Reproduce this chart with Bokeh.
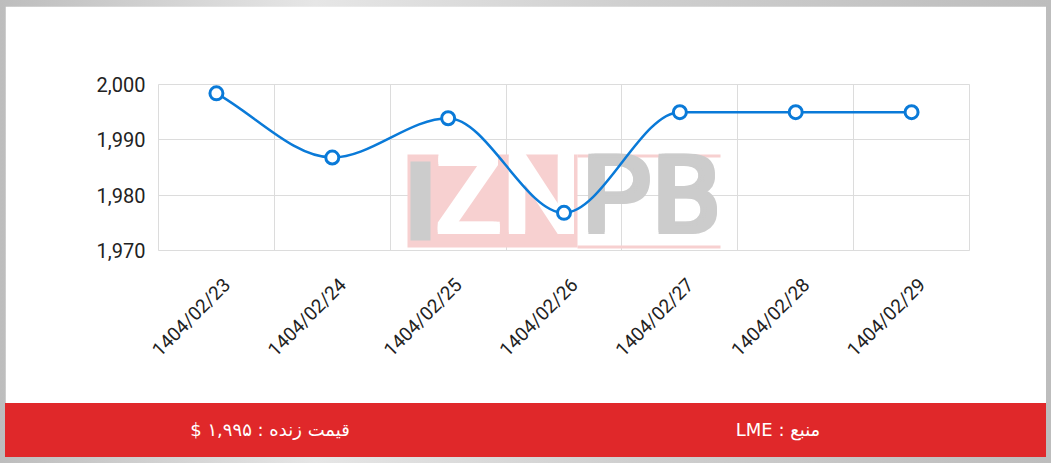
import math
from bokeh.plotting import figure
from bokeh.layouts import column
from bokeh.models import (Range1d, FixedTicker, NumeralTickFormatter, Div,
                          CustomJSTickFormatter)
from bokeh.core.properties import value
from bokeh.embed import file_html
from bokeh.resources import INLINE

# ---- data ----
dates = ["1404/02/23", "1404/02/24", "1404/02/25", "1404/02/26",
         "1404/02/27", "1404/02/28", "1404/02/29"]
prices = [1998.4, 1986.8, 1993.9, 1976.8, 1995.0, 1995.0, 1995.0]
y_ticks = [1970, 1980, 1990, 2000]
live_price_text = "قیمت زنده : ۱,۹۹۵ $"
source_text = "منبع : LME"

xs = list(range(len(dates)))

LINE_BLUE = "#0a7ad8"
RED = "#e0282a"
LABEL_SHIFT = 0.09  # axis labels sit slightly right of the points

p = figure(width=1041, height=397, output_backend="svg", toolbar_location=None,
           x_range=Range1d(-0.5, len(dates) - 0.5), y_range=Range1d(1970, 2000),
           min_border_left=153, min_border_right=77, min_border_top=78,
           min_border_bottom=153, background_fill_color="white",
           border_fill_color="white", outline_line_color="#dcdcdc")

# grid
p.xgrid.ticker = FixedTicker(ticks=[i + 0.5 for i in xs[:-1]])
p.xgrid.grid_line_color = "#dcdcdc"
p.ygrid.grid_line_color = "#dcdcdc"

# axes
p.yaxis.ticker = FixedTicker(ticks=y_ticks)
p.yaxis.formatter = NumeralTickFormatter(format="0,0")
p.xaxis.ticker = FixedTicker(ticks=[x + LABEL_SHIFT for x in xs])
p.xaxis.formatter = CustomJSTickFormatter(
    args=dict(labels=dates, shift=LABEL_SHIFT),
    code="return labels[Math.round(tick - shift)];")
p.xaxis.major_label_orientation = math.pi / 4
for ax in (p.xaxis, p.yaxis):
    ax.axis_line_color = None
    ax.major_tick_line_color = None
    ax.minor_tick_line_color = None
    ax.major_tick_out = 0
    ax.major_label_text_font = "Roboto"
    ax.major_label_text_color = "#222222"
p.xaxis.major_label_text_font_size = "19px"
p.yaxis.major_label_text_font_size = "20px"
p.yaxis.major_label_standoff = 13
p.xaxis.major_label_standoff = 31

# ---- watermark "IZNPB" (page pixel -> data mapping helpers) ----
def wx(px):
    return -0.5 + (px - 158) * 7.0 / 811.0

def wy(py):
    return 2000 - (py - 84) * 30.0 / 166.0

p.quad(left=[wx(407)], right=[wx(577)], top=[wy(154)], bottom=[wy(247)],
       fill_color="#f7d0d0", line_color=None)
p.quad(left=[wx(577), wx(577)], right=[wx(720), wx(720)],
       top=[wy(154), wy(245)], bottom=[wy(157), wy(248)],
       fill_color="#f7d0d0", line_color=None)
p.quad(left=[wx(410)], right=[wx(430)], top=[wy(161)], bottom=[wy(240)],
       fill_color="#cccccc", line_color=None)
# faux-bold letters: a few slightly offset copies
for dx in (-3, 0, 3):
    for dy in (-2, 0, 2):
        p.text(x=[wx(468 + dx), wx(541 + dx)], y=[wy(194 + dy)] * 2,
               text=["Z", "N"], text_font=value("Roboto"),
               text_font_size=value("108px"), text_align="center",
               text_baseline="alphabetic", text_color="white")
        p.text(x=[wx(616 + dx), wx(686 + dx)], y=[wy(194 + dy)] * 2,
               text=["P", "B"], text_font=value("Roboto"),
               text_font_size=value("108px"), text_align="center",
               text_baseline="alphabetic", text_color="#cccccc")

# ---- monotone cubic curve (Chart.js style) drawn with bezier glyphs ----
n = len(xs)
dk = [(prices[i + 1] - prices[i]) / (xs[i + 1] - xs[i]) for i in range(n - 1)]
mk = []
for i in range(n):
    if i == 0:
        mk.append(dk[0])
    elif i == n - 1:
        mk.append(dk[-1])
    else:
        s0 = (dk[i - 1] > 0) - (dk[i - 1] < 0)
        s1 = (dk[i] > 0) - (dk[i] < 0)
        mk.append(0.0 if s0 != s1 else (dk[i - 1] + dk[i]) / 2)
for i in range(n - 1):
    if dk[i] == 0:
        mk[i] = mk[i + 1] = 0.0
        continue
    a = mk[i] / dk[i]
    b = mk[i + 1] / dk[i]
    sq = a * a + b * b
    if sq > 9:
        t = 3 / math.sqrt(sq)
        mk[i] = a * t * dk[i]
        mk[i + 1] = b * t * dk[i]

x0, y0, x1, y1, cx0, cy0, cx1, cy1 = [], [], [], [], [], [], [], []
for i in range(n - 1):
    d = (xs[i + 1] - xs[i]) / 3
    x0.append(xs[i]); y0.append(prices[i])
    x1.append(xs[i + 1]); y1.append(prices[i + 1])
    cx0.append(xs[i] + d); cy0.append(prices[i] + mk[i] * d)
    cx1.append(xs[i + 1] - d); cy1.append(prices[i + 1] - mk[i + 1] * d)
p.bezier(x0=x0, y0=y0, x1=x1, y1=y1, cx0=cx0, cy0=cy0, cx1=cx1, cy1=cy1,
         line_color=LINE_BLUE, line_width=2.5)

p.scatter(xs, prices, size=13, fill_color="white", line_color=LINE_BLUE,
          line_width=3)

# ---- footer bar ----
span_style = ("position:absolute;top:50%;transform:translate(-50%,-50%);"
              "white-space:nowrap;direction:rtl;")
footer_html = (
    '<div style="position:relative;width:1041px;height:54px;'
    'font-family:\'DejaVu Sans\',sans-serif;font-size:18px;color:white;">'
    f'<span dir="rtl" style="{span_style}left:265px;">{live_price_text}</span>'
    f'<span dir="rtl" style="{span_style}left:773px;">{source_text}</span>'
    '</div>'
)
footer = Div(text=footer_html, width=1041, height=54,
             styles={"background-color": RED, "margin": "0", "padding": "0"})

layout = column(p, footer, spacing=0,
                styles={"background": "linear-gradient(90deg,#bdbdbd,#e6e6e6 30%,#cfcfcf 60%,#bdbdbd)",
                        "padding": "6px 5px 6px 5px"})
open("out.html", "w").write(file_html(layout, INLINE))
